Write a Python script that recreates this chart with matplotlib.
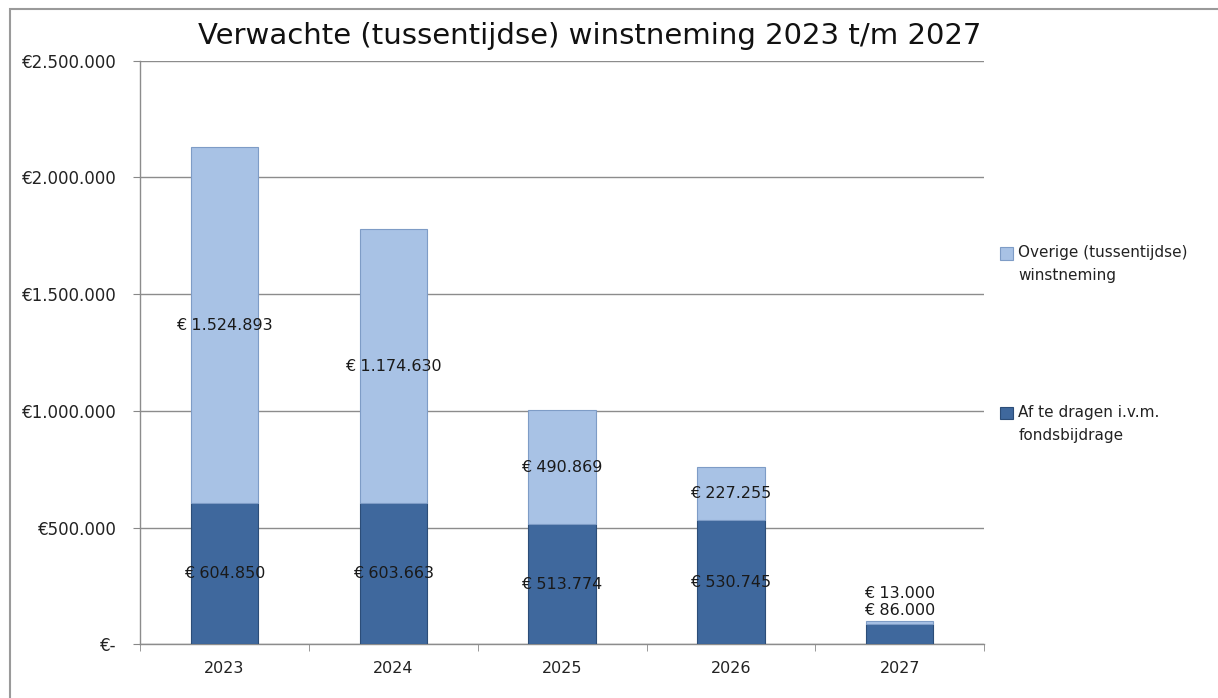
import matplotlib
matplotlib.use("Agg")
import matplotlib.pyplot as plt
from matplotlib.ticker import FuncFormatter, FixedLocator
from matplotlib.patches import Rectangle

years = ["2023", "2024", "2025", "2026", "2027"]
afdracht = [604850, 603663, 513774, 530745, 86000]     # Af te dragen i.v.m. fondsbijdrage
overige = [1524893, 1174630, 490869, 227255, 13000]    # Overige (tussentijdse) winstneming
legend_labels = ["Overige (tussentijdse)\nwinstneming", "Af te dragen i.v.m.\nfondsbijdrage"]

DARK = "#3f689d"
LIGHT = "#a8c2e5"


def euro(v, pos=None):
    if v == 0:
        return "€-"
    return "€" + f"{int(v):,}".replace(",", ".")


fig = plt.figure(figsize=(12.18, 6.98), dpi=100)
ax = fig.add_axes([0.115, 0.077, 0.693, 0.836])

x = range(len(years))
ax.bar(x, afdracht, width=0.4, color=DARK, edgecolor="#2c4d78", linewidth=0.8, zorder=3)
ax.bar(x, overige, width=0.4, bottom=afdracht, color=LIGHT, edgecolor="#7e9cc6", linewidth=0.8, zorder=3)

# value labels
for i in x:
    lo, hi = afdracht[i], overige[i]
    if i < len(years) - 1:
        ax.text(i, lo / 2, "€ " + euro(lo)[1:], ha="center", va="center", fontsize=11.5, color="#1a1a1a", zorder=4)
        ax.text(i, lo + hi / 2, "€ " + euro(hi)[1:], ha="center", va="center", fontsize=11.5, color="#1a1a1a", zorder=4)
    else:
        # small bar: labels stacked above it
        top = lo + hi
        ax.annotate("€ " + euro(lo)[1:], (i, top), xytext=(0, 8), textcoords="offset points",
                    ha="center", va="center", fontsize=11.5, color="#1a1a1a")
        ax.annotate("€ " + euro(hi)[1:], (i, top), xytext=(0, 20), textcoords="offset points",
                    ha="center", va="center", fontsize=11.5, color="#1a1a1a")

ax.set_ylim(0, 2500000)
ax.set_xlim(-0.5, len(years) - 0.5)
ax.yaxis.set_major_locator(FixedLocator([0, 500000, 1000000, 1500000, 2000000, 2500000]))
ax.yaxis.set_major_formatter(FuncFormatter(euro))
ax.set_xticks(list(x))
ax.set_xticklabels(years)
ax.set_xticks([i - 0.5 for i in range(len(years) + 1)], minor=True)
ax.tick_params(axis="x", which="major", length=0, pad=12, labelsize=11.5, labelcolor="#222222")
ax.tick_params(axis="x", which="minor", length=5, color="#888888")
ax.tick_params(axis="y", length=5, color="#888888", pad=12, labelsize=12, labelcolor="#222222")
ax.grid(axis="y", color="#8c8c8c", linewidth=1, zorder=0)
for s in ["top", "right"]:
    ax.spines[s].set_visible(False)
for s in ["left", "bottom"]:
    ax.spines[s].set_color("#8c8c8c")
    ax.spines[s].set_linewidth(1)

fig.text(0.484, 0.948, "Verwachte (tussentijdse) winstneming 2023 t/m 2027", fontsize=21,
         color="#111111", ha="center", va="center")

# legend, square aligned with the first line of each label
for label, col, edge, ytop in zip(legend_labels, [LIGHT, DARK], ["#7e9cc6", "#2c4d78"], [0.637, 0.408]):
    fig.patches.append(Rectangle((0.821, ytop - 0.009), 0.0105, 0.0185, transform=fig.transFigure,
                                 facecolor=col, edgecolor=edge, linewidth=0.8))
    fig.text(0.836, ytop + 0.012, label, fontsize=11, color="#222222", ha="left", va="top",
             linespacing=1.7)

# outer frame of the chart area
fig.patches.append(Rectangle((0.008, -0.05), 1.1, 1.037, transform=fig.transFigure,
                             fill=False, edgecolor="#9a9a9a", linewidth=1.5))

fig.savefig("out.png", dpi=100, facecolor="white")
